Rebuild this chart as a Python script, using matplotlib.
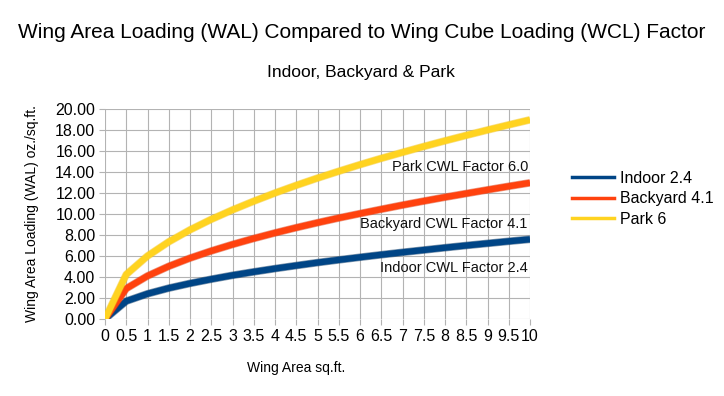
import matplotlib
matplotlib.use('Agg')
import matplotlib.pyplot as plt
import matplotlib.patheffects as pe

plt.rcParams['font.family'] = ['Liberation Sans', 'DejaVu Sans']

# wing area sq.ft.
areas = [0, 0.5, 1, 1.5, 2, 2.5, 3, 3.5, 4, 4.5, 5, 5.5, 6, 6.5, 7, 7.5, 8, 8.5, 9, 9.5, 10]
area_labels = ['0', '0.5', '1', '1.5', '2', '2.5', '3', '3.5', '4', '4.5', '5',
               '5.5', '6', '6.5', '7', '7.5', '8', '8.5', '9', '9.5', '10']

# WAL oz./sq.ft.
indoor = [0, 1.70, 2.40, 2.94, 3.39, 3.79, 4.16, 4.49, 4.80, 5.09, 5.37,
          5.63, 5.88, 6.12, 6.35, 6.57, 6.79, 7.00, 7.20, 7.40, 7.59]
backyard = [0, 2.90, 4.10, 5.02, 5.80, 6.48, 7.10, 7.67, 8.20, 8.70, 9.17,
            9.62, 10.04, 10.45, 10.85, 11.23, 11.60, 11.95, 12.30, 12.64, 12.97]
park = [0, 4.24, 6.00, 7.35, 8.49, 9.49, 10.39, 11.22, 12.00, 12.73, 13.42,
        14.07, 14.70, 15.30, 15.87, 16.43, 16.97, 17.49, 18.00, 18.49, 18.97]

series = [('Indoor 2.4', indoor, '#004586', '#00305e'),
          ('Backyard 4.1', backyard, '#ff420e', '#d8330a'),
          ('Park 6', park, '#ffd320', '#f0c010')]

notes = [('Park CWL Factor 6.0', 14.5),
         ('Backyard CWL Factor 4.1', 9.05),
         ('Indoor CWL Factor 2.4', 4.85)]

fig = plt.figure(figsize=(7.24, 3.96), dpi=100)
ax = fig.add_axes([105 / 724, 1 - 319 / 396, 425 / 724, 210 / 396])

handles = []
for name, vals, col, dark in series:
    ln, = ax.plot(areas, vals, color=col, lw=4.5, solid_capstyle='butt',
                  path_effects=[pe.Stroke(linewidth=5.5, foreground=dark, alpha=0.5), pe.Normal()],
                  zorder=3)
    h, = ax.plot([], [], color=col, lw=2.5, label=name)
    handles.append(h)

for txt, y in notes:
    ax.text(9.95, y, txt, ha='right', va='center', fontsize=10.5, color='#111111', zorder=4)

ax.set_xlim(0, 10)
ax.set_ylim(0, 20)
ax.set_xticks(areas)
ax.set_xticklabels(area_labels)
ax.set_yticks(range(0, 21, 2))
ax.set_yticklabels(['%.2f' % v for v in range(0, 21, 2)])
ax.grid(True, color='#b3b3b3', lw=0.8)
ax.set_axisbelow(True)
for s in ax.spines.values():
    s.set_visible(False)
ax.tick_params(length=4, color='#b3b3b3', labelsize=11.5, pad=3)

fig.text(296 / 724, 1 - 368 / 396, 'Wing Area sq.ft.', ha='center', va='center', fontsize=10)
fig.text(32 / 724, 1 - 214 / 396, 'Wing Area Loading (WAL) oz./sq.ft.', ha='center', va='center',
         rotation=90, fontsize=10)

fig.text(362 / 724, 1 - 32 / 396, 'Wing Area Loading (WAL) Compared to Wing Cube Loading (WCL) Factor',
         ha='center', va='center', fontsize=15)
fig.text(361 / 724, 1 - 73 / 396, 'Indoor, Backyard & Park', ha='center', va='center', fontsize=12.5)

fig.legend(handles=handles, loc='center left', bbox_to_anchor=(558 / 724, 1 - 199 / 396),
           frameon=False, fontsize=11.5, handlelength=2.6, handletextpad=0.4, labelspacing=0.35)

fig.savefig('out.png', dpi=100)
